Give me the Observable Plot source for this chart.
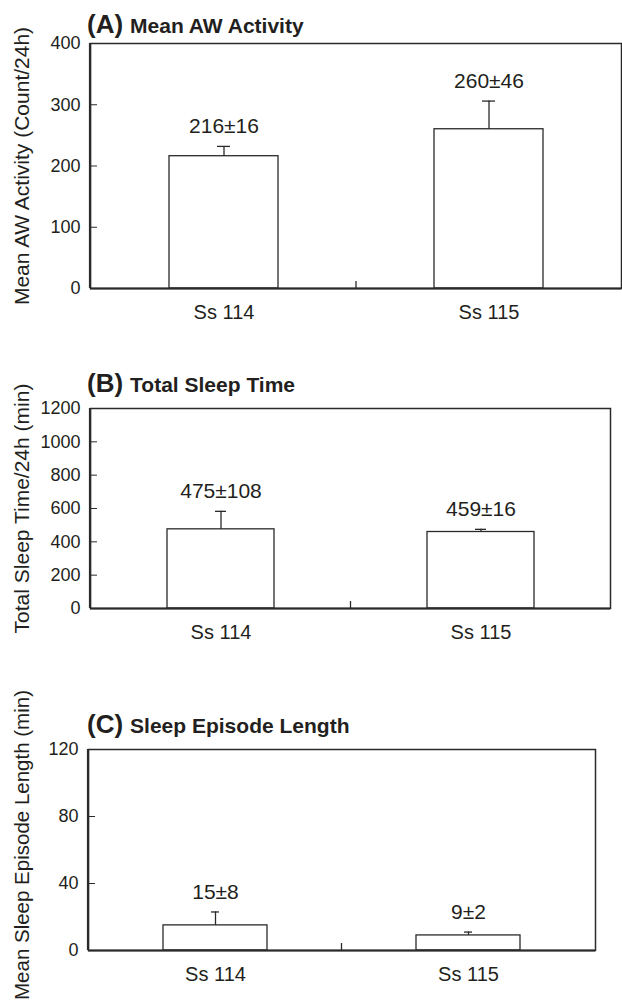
<!DOCTYPE html>
<html>
<head>
<meta charset="utf-8">
<script src="https://cdn.jsdelivr.net/npm/d3@7"></script>
<script src="https://cdn.jsdelivr.net/npm/@observablehq/plot@0.6"></script>
<style>
  html, body { margin: 0; padding: 0; background: #fff; }
  #wrap { position: relative; width: 622px; height: 1005px; overflow: hidden;
          font-family: "Liberation Sans", Arial, Helvetica, sans-serif; color: #231f20; background: #fff; }
  .panel { position: absolute; left: 0; }
  .title { position: absolute; left: 87px; font-weight: bold; white-space: nowrap;
           font-size: 26px; line-height: 26px; }
  .title .txt { font-size: 21px; margin-left: 7px; }
</style>
</head>
<body>
<div id="wrap"></div>
<script>
// ---- data ----
const subjects = ["Ss 114", "Ss 115"];

const activityMean = [216, 260];
const activityErr = [16, 46];
const activityTicks = [0, 100, 200, 300, 400];

const sleepMean = [475, 459];
const sleepErr = [108, 16];
const sleepTicks = [0, 200, 400, 600, 800, 1000, 1200];

const episodeMean = [15, 9];
const episodeErr = [8, 2];
const episodeTicks = [0, 40, 80, 120];

const panelTags = ["(A)", "(B)", "(C)"];
const panelTitles = ["Mean AW Activity", "Total Sleep Time", "Sleep Episode Length"];
const yLabels = ["Mean AW Activity (Count/24h)", "Total Sleep Time/24h (min)", "Mean Sleep Episode Length (min)"];

// ---- drawing ----
const INK = "#2a2a2a";
const FONT = "'Liberation Sans', Arial, Helvetica, sans-serif";
const wrap = document.getElementById("wrap");

function frameExtras(index, scales, values, dims) {
  const ns = "http://www.w3.org/2000/svg";
  const g = document.createElementNS(ns, "g");
  const x = scales.x;
  const bw = typeof x.bandwidth === "function" ? x.bandwidth() : x.bandwidth;
  const xb = (x(subjects[0]) + bw + x(subjects[1])) / 2;
  const yb = dims.height - dims.marginBottom;
  const mk = (x1, y1, x2, y2, w) => {
    const l = document.createElementNS(ns, "line");
    l.setAttribute("x1", x1); l.setAttribute("y1", y1);
    l.setAttribute("x2", x2); l.setAttribute("y2", y2);
    l.setAttribute("stroke", INK); l.setAttribute("stroke-width", w);
    g.appendChild(l);
  };
  // inward tick between the two categories
  mk(xb, yb, xb, yb - 7, 1.3);
  // heavier left axis line
  mk(dims.marginLeft, dims.marginTop, dims.marginLeft, yb, 2.2);
  return g;
}

function panel(i, {top, height, mt, mb, ml, mr, means, errs, ticks, labelDx, labelDy, labelSize}) {
  const data = subjects.map((s, k) => ({
    subject: s, mean: means[k], top: means[k] + errs[k], label: `${means[k]}±${errs[k]}`
  }));
  const chart = Plot.plot({
    width: 622, height,
    marginTop: mt, marginBottom: mb, marginLeft: ml, marginRight: mr,
    style: { fontFamily: FONT, fontSize: "18px", color: "#231f20", background: "white" },
    x: { domain: subjects, paddingInner: 0.59, paddingOuter: 0.295, label: null },
    y: { domain: [0, ticks[ticks.length - 1]], label: null },
    marks: [
      Plot.barY(data, { x: "subject", y: "mean", fill: "white", stroke: INK, strokeWidth: 1.3 }),
      Plot.ruleX(data, { x: "subject", y1: "mean", y2: "top", stroke: INK, strokeWidth: 1.3 }),
      Plot.tickY(data, { x: "subject", y: "top", insetLeft: 48, insetRight: 48, stroke: INK, strokeWidth: 1.3 }),
      Plot.text(data, { x: "subject", y: "top", text: "label", dy: -20, fontSize: 21, fill: "#231f20" }),
      Plot.frame({ stroke: INK, strokeWidth: 1.5 }),
      Plot.ruleY([0], { stroke: INK, strokeWidth: 2.2 }),
      Plot.axisY({ ticks, tickSize: -7, tickPadding: 17, tickFormat: d => String(d), fontSize: 18, label: null, stroke: INK }),
      Plot.axisX({ tickSize: 0, tickPadding: 16, fontSize: 20, label: null }),
      frameExtras,
      Plot.text([yLabels[i]], { text: d => d, frameAnchor: "left", textAnchor: "middle", lineAnchor: "middle",
                                rotate: -90, dx: labelDx, dy: labelDy, fontSize: labelSize, fill: "#231f20" })
    ]
  });
  chart.classList.add("panel");
  chart.style.top = top + "px";
  wrap.appendChild(chart);
}

panel(0, { top: 0,   height: 335, mt: 43, mb: 47, ml: 90, mr: 1,  means: activityMean, errs: activityErr, ticks: activityTicks, labelDx: -68, labelDy: 0, labelSize: 21 });
panel(1, { top: 335, height: 323, mt: 73, mb: 50, ml: 90, mr: 12, means: sleepMean,    errs: sleepErr,    ticks: sleepTicks,    labelDx: -68, labelDy: 0, labelSize: 21 });
panel(2, { top: 658, height: 347, mt: 91, mb: 55, ml: 88, mr: 27, means: episodeMean,  errs: episodeErr,  ticks: episodeTicks,  labelDx: -66, labelDy: -5, labelSize: 20.5 });

const titleTops = [11, 370, 711];
panelTags.forEach((tag, i) => {
  const d = document.createElement("div");
  d.className = "title";
  d.style.top = titleTops[i] + "px";
  const a = document.createElement("span"); a.textContent = tag;
  const b = document.createElement("span"); b.className = "txt"; b.textContent = panelTitles[i];
  d.appendChild(a); d.appendChild(b);
  wrap.appendChild(d);
});
</script>
</body>
</html>
